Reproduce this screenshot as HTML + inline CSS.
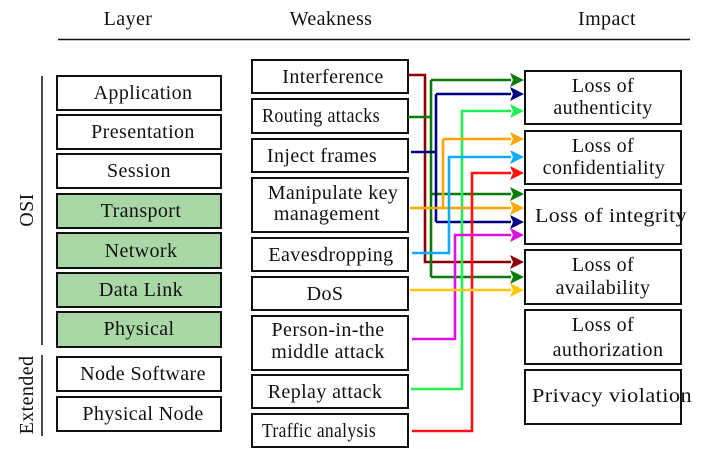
<!DOCTYPE html>
<html><head><meta charset="utf-8"><style>
html,body{margin:0;padding:0;background:#fff;}
svg text{font-family:"Liberation Serif","DejaVu Serif",serif;font-size:20px;letter-spacing:0.4px;fill:#111;}
</style></head><body>
<svg width="705" height="461" viewBox="0 0 705 461" xmlns="http://www.w3.org/2000/svg">
<text x="128" y="25" text-anchor="middle">Layer</text>
<text x="331" y="25" text-anchor="middle">Weakness</text>
<text x="607" y="25" text-anchor="middle">Impact</text>
<line x1="58" y1="39.5" x2="690" y2="39.5" stroke="#111" stroke-width="1.5"/>
<line x1="42" y1="76" x2="42" y2="345" stroke="#111" stroke-width="1.5"/>
<line x1="42" y1="355" x2="42" y2="436" stroke="#111" stroke-width="1.5"/>
<text transform="translate(33,210) rotate(-90)" text-anchor="middle">OSI</text>
<text transform="translate(33,395) rotate(-90)" text-anchor="middle">Extended</text>
<g stroke="#111" stroke-width="2">
<rect x="57" y="76" width="164" height="34" fill="#fff"/>
<rect x="57" y="115" width="164" height="34" fill="#fff"/>
<rect x="57" y="154" width="164" height="34" fill="#fff"/>
<rect x="57" y="194" width="164" height="34" fill="#a9d8a6"/>
<rect x="57" y="233" width="164" height="35" fill="#a9d8a6"/>
<rect x="57" y="273" width="164" height="34" fill="#a9d8a6"/>
<rect x="57" y="312" width="164" height="35" fill="#a9d8a6"/>
<rect x="57" y="357" width="164" height="34" fill="#fff"/>
<rect x="57" y="397" width="164" height="34" fill="#fff"/>
<rect x="252" y="60" width="156" height="33" fill="#fff"/>
<rect x="252" y="99" width="156" height="34" fill="#fff"/>
<rect x="252" y="139" width="156" height="33" fill="#fff"/>
<rect x="252" y="178" width="156" height="54" fill="#fff"/>
<rect x="252" y="238" width="156" height="33" fill="#fff"/>
<rect x="252" y="277" width="156" height="33" fill="#fff"/>
<rect x="252" y="316" width="156" height="54" fill="#fff"/>
<rect x="252" y="375" width="156" height="33" fill="#fff"/>
<rect x="252" y="414" width="156" height="33" fill="#fff"/>
<rect x="525" y="71" width="156" height="53" fill="#fff"/>
<rect x="525" y="131" width="156" height="53" fill="#fff"/>
<rect x="525" y="190" width="156" height="54" fill="#fff"/>
<rect x="525" y="250" width="156" height="54" fill="#fff"/>
<rect x="525" y="310" width="156" height="54" fill="#fff"/>
<rect x="525" y="370" width="156" height="54" fill="#fff"/>
</g>
<g text-anchor="middle">
<text x="143" y="99">Application</text>
<text x="143" y="138">Presentation</text>
<text x="139" y="177">Session</text>
<text x="141" y="217">Transport</text>
<text x="141" y="257">Network</text>
<text x="141" y="296">Data Link</text>
<text x="139" y="335">Physical</text>
<text x="143" y="380">Node Software</text>
<text x="143" y="420">Physical Node</text>
<text x="333" y="83">Interference</text>
<text x="321" y="122" textLength="118" lengthAdjust="spacingAndGlyphs">Routing attacks</text>
<text x="322" y="162">Inject frames</text>
<text x="333" y="199">Manipulate key</text>
<text x="327" y="220">management</text>
<text x="331" y="261">Eavesdropping</text>
<text x="325" y="300">DoS</text>
<text x="328" y="336">Person-in-the</text>
<text x="328" y="358">middle attack</text>
<text x="325" y="398">Replay attack</text>
<text x="319" y="437" textLength="114" lengthAdjust="spacingAndGlyphs">Traffic analysis</text>
<text x="603" y="92">Loss of</text>
<text x="603" y="114">authenticity</text>
<text x="603" y="152">Loss of</text>
<text x="604" y="174">confidentiality</text>
<text x="611" y="222" textLength="152" lengthAdjust="spacingAndGlyphs">Loss of integrity</text>
<text x="603" y="271">Loss of</text>
<text x="603" y="294">availability</text>
<text x="603" y="331">Loss of</text>
<text x="608" y="356">authorization</text>
<text x="612" y="402" textLength="160" lengthAdjust="spacingAndGlyphs">Privacy violation</text>
</g>
<g fill="none" stroke-width="2.6">
<polyline stroke="#8b0000" points="408,75 425,75 425,262 511,262"/>
<polyline stroke="#0a7a0a" points="408,117 431,117"/>
<polyline stroke="#0a7a0a" points="431,80 431,277"/>
<line stroke="#0a7a0a" x1="431" y1="80" x2="511" y2="80"/>
<line stroke="#0a7a0a" x1="431" y1="194" x2="511" y2="194"/>
<line stroke="#0a7a0a" x1="431" y1="277" x2="511" y2="277"/>
<polyline stroke="#000080" points="411,152 436,152"/>
<polyline stroke="#000080" points="436,94 436,222"/>
<line stroke="#000080" x1="436" y1="94" x2="511" y2="94"/>
<line stroke="#000080" x1="436" y1="222" x2="511" y2="222"/>
<polyline stroke="#22ee55" points="411,389 462,389 462,111 511,111"/>
<polyline stroke="#ffa500" points="443,139 511,139"/>
<polyline stroke="#ffa500" points="443,139 443,208"/>
<polyline stroke="#ffa500" points="410,208 511,208"/>
<polyline stroke="#11aaff" points="412,253 449,253 449,157 511,157"/>
<polyline stroke="#ff1111" points="412,431 472,431 472,173 511,173"/>
<polyline stroke="#dd11dd" points="412,339 455,339 455,235 511,235"/>
<polyline stroke="#ffc800" points="410,290 511,290"/>
</g>
<g>
<path fill="#0a7a0a" d="M510,73L524,80L510,87L513,80z"/>
<path fill="#000080" d="M510,87L524,94L510,101L513,94z"/>
<path fill="#22ee55" d="M510,104L524,111L510,118L513,111z"/>
<path fill="#ffa500" d="M510,132L524,139L510,146L513,139z"/>
<path fill="#11aaff" d="M510,150L524,157L510,164L513,157z"/>
<path fill="#ff1111" d="M510,166L524,173L510,180L513,173z"/>
<path fill="#0a7a0a" d="M510,187L524,194L510,201L513,194z"/>
<path fill="#ffa500" d="M510,201L524,208L510,215L513,208z"/>
<path fill="#000080" d="M510,215L524,222L510,229L513,222z"/>
<path fill="#dd11dd" d="M510,228L524,235L510,242L513,235z"/>
<path fill="#8b0000" d="M510,255L524,262L510,269L513,262z"/>
<path fill="#0a7a0a" d="M510,270L524,277L510,284L513,277z"/>
<path fill="#ffc800" d="M510,283L524,290L510,297L513,290z"/>
</g>
</svg>
</body></html>
